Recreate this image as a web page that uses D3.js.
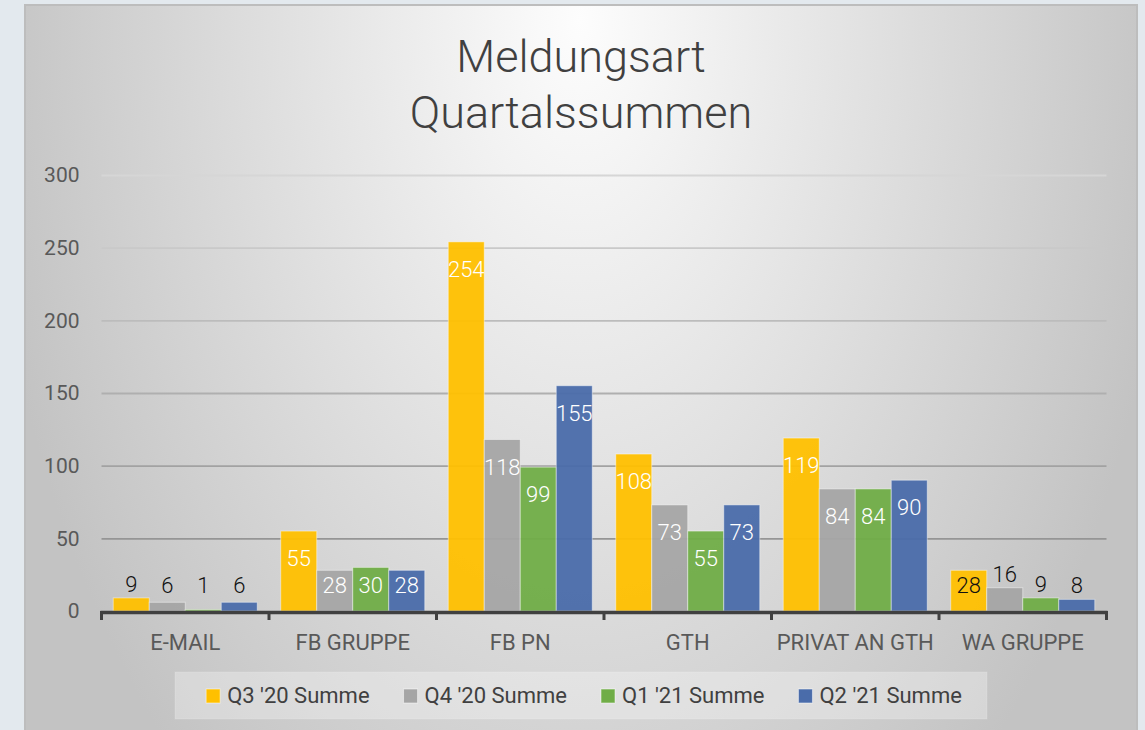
<!DOCTYPE html>
<html>
<head>
<meta charset="utf-8">
<script src="https://cdn.jsdelivr.net/npm/d3@7"></script>
<style>
  html, body { margin: 0; padding: 0; background: #e3e9ee; }
  svg { display: block; }
  text { font-family: Roboto, "Noto Sans", sans-serif; }
</style>
</head>
<body>
<svg id="chart" width="1145" height="730"></svg>
<script>
// ---- data ----
const categories = ["E-MAIL", "FB GRUPPE", "FB PN", "GTH", "PRIVAT AN GTH", "WA GRUPPE"];
const seriesNames = ["Q3 '20 Summe", "Q4 '20 Summe", "Q1 '21 Summe", "Q2 '21 Summe"];
const q3_20 = [9, 55, 254, 108, 119, 28];
const q4_20 = [6, 28, 118, 73, 84, 16];
const q1_21 = [1, 30, 99, 55, 84, 9];
const q2_21 = [6, 28, 155, 73, 90, 8];
const seriesValues = [q3_20, q4_20, q1_21, q2_21];
const yTicks = [0, 50, 100, 150, 200, 250, 300];
const titleLines = ["Meldungsart", "Quartalssummen"];
const darkInsideLabels = [["WA GRUPPE", "Q3 '20 Summe"]];

// ---- styles ----
const colors = ["#FFC000", "#A5A5A5", "#70AD47", "#4A6CAA"];

const svg = d3.select("#chart");
const defs = svg.append("defs");

// background gradient
const bg = defs.append("radialGradient")
  .attr("id", "bgGrad")
  .attr("gradientUnits", "userSpaceOnUse")
  .attr("cx", 0).attr("cy", 0).attr("r", 1)
  .attr("gradientTransform", "translate(580,20) scale(600,1000)");
bg.append("stop").attr("offset", 0).attr("stop-color", "#fdfdfd");
bg.append("stop").attr("offset", 1).attr("stop-color", "#c3c3c3");

// chart area
svg.append("rect")
  .attr("x", 25).attr("y", 5).attr("width", 1112).attr("height", 740)
  .attr("fill", "url(#bgGrad)")
  .attr("stroke", "#bdbdbd").attr("stroke-width", 2);

const left = 101.5, right = 1106.5, y0 = 611, yTop = 175;

const x0 = d3.scaleBand().domain(categories).range([left, right]).paddingInner(0).paddingOuter(0);
const x1 = d3.scaleBand().domain(seriesNames).range([0, x0.bandwidth()]).paddingInner(0).paddingOuter(0.326);
const y = d3.scaleLinear().domain([0, 300]).range([y0, yTop]);
const gridColor = d3.scaleLinear().domain([0, 300]).range(["#888888", "#d6d6d6"]);

// title
svg.append("g").selectAll("text").data(titleLines).join("text")
  .attr("x", 581).attr("y", (d, i) => 72 + i * 56)
  .attr("text-anchor", "middle")
  .attr("font-size", 45).attr("font-weight", 300)
  .attr("fill", "#404040")
  .text(d => d);

// y axis with gridlines
const yAxis = svg.append("g")
  .attr("transform", `translate(${left},0)`)
  .call(d3.axisLeft(y).tickValues(yTicks).tickSize(-(right - left)).tickPadding(22));
yAxis.select(".domain").remove();
yAxis.selectAll(".tick line")
  .attr("stroke", d => gridColor(d)).attr("stroke-width", 1.8)
  .filter(d => d === 0).remove();
yAxis.selectAll(".tick text")
  .attr("font-size", 21).attr("fill", "#595959");

// bars
const groups = svg.append("g").selectAll("g").data(categories).join("g")
  .attr("transform", d => `translate(${x0(d)},0)`);

const barData = (c, ci) => seriesNames.map((s, si) => ({ cat: c, series: s, si, value: seriesValues[si][ci] }));

groups.selectAll("rect").data((c, ci) => barData(c, ci)).join("rect")
  .attr("x", d => x1(d.series))
  .attr("width", x1.bandwidth())
  .attr("y", d => y(d.value))
  .attr("height", d => y0 - y(d.value))
  .attr("fill", d => colors[d.si])
  .attr("fill-opacity", 0.95)
  .attr("stroke", "#ffffff").attr("stroke-opacity", 0.45).attr("stroke-width", 1);

// data labels
const isDark = d => darkInsideLabels.some(([c, s]) => c === d.cat && s === d.series);
groups.selectAll("text").data((c, ci) => barData(c, ci)).join("text")
  .attr("x", d => x1(d.series) + x1.bandwidth() / 2)
  .attr("y", d => {
    const top = y(d.value);
    return d.value >= 20 ? Math.min(top + 35, y0 - 18) : Math.min(top - 6, y0 - 18);
  })
  .attr("text-anchor", "middle")
  .attr("font-size", 22).attr("font-weight", 300)
  .attr("fill", d => (d.value >= 20 && !isDark(d)) ? "#ffffff" : "#111111")
  .text(d => d.value);

// x axis
const xAxis = svg.append("g")
  .attr("transform", `translate(0,${y0})`)
  .call(d3.axisBottom(x0).tickSize(0).tickPadding(23));
xAxis.select(".domain").remove();
xAxis.selectAll(".tick text").attr("font-size", 22).attr("fill", "#595959");

svg.append("line")
  .attr("x1", left - 1).attr("x2", right + 1).attr("y1", y0 + 1.5).attr("y2", y0 + 1.5)
  .attr("stroke", "#404040").attr("stroke-width", 3.5);
const boundaries = categories.map(c => x0(c)).concat([right]);
svg.append("g").selectAll("line").data(boundaries).join("line")
  .attr("x1", d => d).attr("x2", d => d)
  .attr("y1", y0).attr("y2", y0 + 9)
  .attr("stroke", "#404040").attr("stroke-width", 3);

// legend
svg.append("rect")
  .attr("x", 175).attr("y", 672).attr("width", 812).attr("height", 47)
  .attr("fill", "#ffffff").attr("fill-opacity", 0.3)
  .attr("stroke", "#ffffff").attr("stroke-opacity", 0.15);

const legend = svg.append("g");
const items = legend.selectAll("g").data(seriesNames).join("g");
items.append("rect")
  .attr("width", 14).attr("height", 14).attr("y", 689)
  .attr("fill", (d, i) => colors[i])
  .attr("stroke", "#ffffff").attr("stroke-opacity", 0.5);
items.append("text")
  .attr("x", 21).attr("y", 703)
  .attr("font-size", 22).attr("fill", "#404040")
  .text(d => d);
const widths = [];
items.select("text").each(function () { widths.push(this.getComputedTextLength()); });
const gap = 34;
const total = widths.reduce((a, w) => a + 21 + w, 0) + gap * (widths.length - 1);
let cx = 584 - total / 2;
items.each(function (d, i) {
  d3.select(this).attr("transform", `translate(${cx},0)`);
  cx += 21 + widths[i] + gap;
});
</script>
</body>
</html>
